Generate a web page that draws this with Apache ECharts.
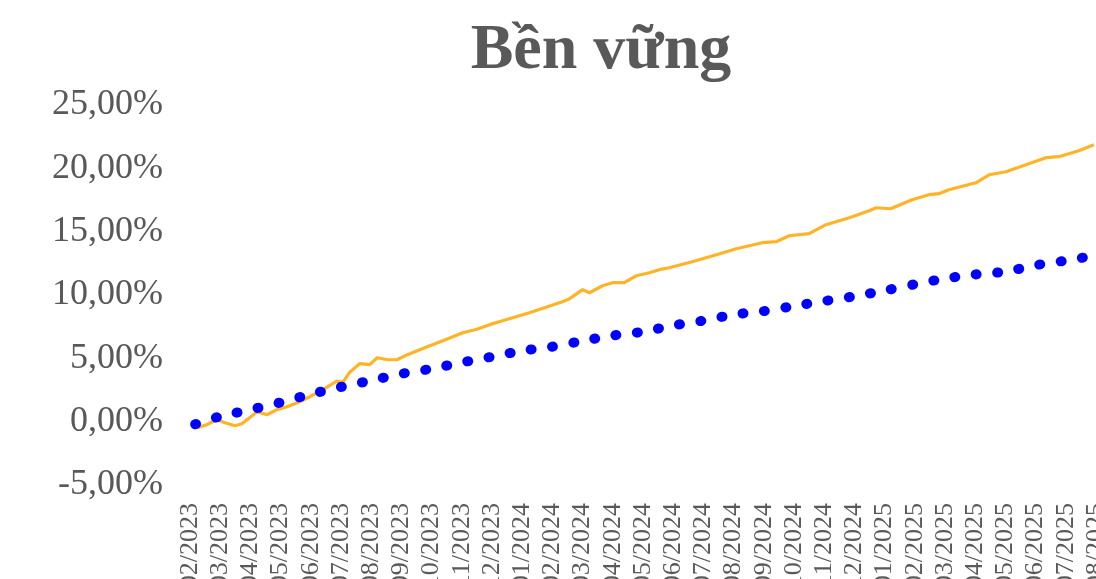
<!DOCTYPE html>
<html>
<head>
<meta charset="utf-8">
<script src="https://cdn.jsdelivr.net/npm/echarts@6/dist/echarts.min.js"></script>
<style>
html,body{margin:0;padding:0;background:#fff;overflow:hidden;width:1096px;height:579px;}
#c{width:1150px;height:640px;}
</style>
</head>
<body>
<div id="c"></div>
<script>
// Month tick labels (first tick = 02/2023)
const categories = ['02/2023','03/2023','04/2023','05/2023','06/2023','07/2023','08/2023','09/2023','10/2023','11/2023','12/2023',
  '01/2024','02/2024','03/2024','04/2024','05/2024','06/2024','07/2024','08/2024','09/2024','10/2024','11/2024','12/2024',
  '01/2025','02/2025','03/2025','04/2025','05/2025','06/2025','07/2025','08/2025'];

// Fund cumulative return (%), position in months from 02/2023
const fundMonth = [0.25,0.55,0.89,1.16,1.49,1.72,1.98,2.22,2.55,2.88,3.21,3.64,3.97,4.40,4.86,5.06,5.29,5.62,5.95,6.20,6.55,6.85,7.20,7.94,8.50,9.03,9.50,9.92,10.35,11.24,12.33,12.57,13.00,13.23,13.66,13.99,14.38,14.78,15.21,15.54,15.87,16.63,17.43,18.09,18.95,19.41,19.84,20.50,21.06,21.83,22.49,22.72,23.20,23.91,24.47,24.80,25.13,26.02,26.46,27.02,27.68,28.34,28.77,29.43,29.93];
const fundReturn = [-0.47,-0.24,0.16,-0.08,-0.32,-0.16,0.32,0.79,0.55,0.95,1.18,1.58,1.97,2.53,3.20,3.10,3.90,4.58,4.50,5.05,4.89,4.89,5.29,6.00,6.50,7.02,7.30,7.66,7.97,8.60,9.47,9.71,10.42,10.18,10.73,10.97,10.97,11.52,11.76,12.00,12.15,12.63,13.18,13.65,14.13,14.21,14.68,14.84,15.55,16.10,16.65,16.89,16.81,17.52,17.92,18.00,18.31,18.86,19.49,19.73,20.28,20.84,20.92,21.39,21.86];

// Benchmark cumulative return (%), position in months from 02/2023
const benchMonth = [0.17,1,2,3,4,5,6,7,8,9,10,11,12,13,14,15,16,17,18,19,20,21,22,23,24,25,26,27,28,29,30];
const benchReturn = [-0.20,0.42,0.95,1.52,2.17,2.74,3.25,3.78,4.18,4.68,5.13,5.60,5.92,6.38,6.80,7.10,7.60,7.98,8.45,8.73,9.13,9.52,9.90,10.35,10.85,11.30,11.62,11.85,12.35,12.72,13.13];

const fundData = fundMonth.map((m, i) => [m, fundReturn[i]]);
const benchData = benchMonth.map((m, i) => [m, benchReturn[i]]);

const gray = '#595959';
const chart = echarts.init(document.getElementById('c'), null, {renderer: 'canvas'});
chart.setOption({
  animation: false,
  backgroundColor: '#ffffff',
  title: {
    text: 'Bền vững',
    left: 596,
    textAlign: 'center',
    top: 14,
    textStyle: {fontFamily: '"Liberation Serif", "Times New Roman", serif', fontWeight: 'bold', fontSize: 64, color: gray}
  },
  grid: {left: 190, top: 105, width: 30.2 * 31, height: 380, containLabel: false},
  xAxis: {
    type: 'value', min: 0, max: 31, interval: 1,
    axisLine: {show: false}, axisTick: {show: false}, splitLine: {show: false},
    axisLabel: {
      rotate: 90, margin: 18, color: gray, fontSize: 26,
      fontFamily: '"Liberation Serif", "Times New Roman", serif',
      formatter: v => categories[Math.round(v)] || ''
    }
  },
  yAxis: {
    type: 'value', min: -5, max: 25, interval: 5,
    axisLine: {show: false}, axisTick: {show: false}, splitLine: {show: false},
    axisLabel: {
      margin: 27, color: gray, fontSize: 36,
      fontFamily: '"Liberation Serif", "Times New Roman", serif',
      formatter: v => v.toFixed(2).replace('.', ',') + '%'
    }
  },
  series: [
    {
      name: 'Quỹ', type: 'line', data: fundData, showSymbol: false, z: 2,
      lineStyle: {color: '#FFB327', width: 3.2, join: 'round'}
    },
    {
      name: 'Tham chiếu', type: 'line', data: benchData, showSymbol: false, z: 3, smooth: 0.3,
      lineStyle: {color: '#0000FF', width: 10, type: [1, 20.5], cap: 'round'}
    }
  ]
});
</script>
</body>
</html>
